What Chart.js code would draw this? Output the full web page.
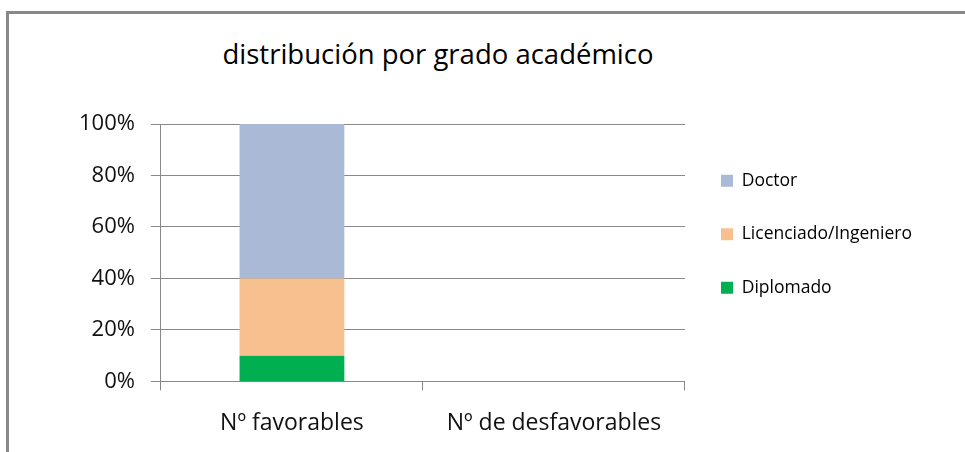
<!DOCTYPE html>
<html>
<head>
<meta charset="utf-8">
<script src="https://cdn.jsdelivr.net/npm/chart.js@4/dist/chart.umd.min.js"></script>
<style>
  body { margin: 0; background: #fff; overflow: hidden; }
  #frame { position: absolute; left: 6px; top: 11px; width: 980px; height: 460px;
           border-left: 3px solid #888; border-top: 3px solid #888; }
  #titulo { position: absolute; left: 138px; width: 600px; top: 35px; text-align: center;
            font: 27.5px "Open Sans", sans-serif; color: #000; white-space: nowrap; }
  #wrap { position: absolute; left: 0; top: 0; width: 965px; height: 456px; }
</style>
</head>
<body>
<div id="frame"></div>
<div id="titulo">distribución por grado académico</div>
<div id="wrap"><canvas id="grafico"></canvas></div>
<script>
// datos
var categorias = ['Nº favorables', 'Nº de desfavorables'];
var diplomado = [10, 0];
var licenciado = [30, 0];
var doctor = [60, 0];
var marcasY = [0, 20, 40, 60, 80, 100];

var gris = '#888888';
var fuente = '"Open Sans", sans-serif';

function dibujar() {
    var ctx = document.getElementById('grafico').getContext('2d');
    var grafico = new Chart(ctx, {
        type: 'bar',
        data: {
            labels: categorias,
            datasets: [
                { label: 'Diplomado', data: diplomado, backgroundColor: '#00B050' },
                { label: 'Licenciado/Ingeniero', data: licenciado, backgroundColor: '#F9C08F' },
                { label: 'Doctor', data: doctor, backgroundColor: '#AAB9D6' }
            ]
        },
        options: {
            responsive: true,
            maintainAspectRatio: false,
            animation: false,
            layout: { padding: { left: 63, right: 43, top: 124, bottom: 0 } },
            datasets: { bar: { categoryPercentage: 1, barPercentage: 0.4 } },
            plugins: {
                legend: {
                    position: 'right',
                    align: 'start',
                    reverse: true,
                    maxWidth: 320,
                    title: { display: true, text: ' ', font: { size: 10 }, padding: 0 },
                    labels: {
                        boxWidth: 12,
                        boxHeight: 12,
                        padding: 36,
                        color: '#000',
                        font: { family: fuente, size: 17.5 }
                    }
                },
                tooltip: { enabled: false }
            },
            scales: {
                x: {
                    stacked: true,
                    grid: { drawOnChartArea: false, tickLength: 9, color: gris },
                    border: { color: gris, width: 1 },
                    ticks: { color: '#111', padding: 19, font: { family: fuente, size: 23 } }
                },
                y: {
                    stacked: true,
                    min: 0,
                    max: 100,
                    afterBuildTicks: function (eje) {
                        eje.ticks = marcasY.map(function (v) { return { value: v }; });
                    },
                    grid: { color: gris, tickLength: 10 },
                    border: { color: gris, width: 1 },
                    ticks: {
                        color: '#111',
                        padding: 16,
                        font: { family: fuente, size: 22 },
                        callback: function (v) { return v + '%'; }
                    }
                }
            }
        }
    });
}

if (document.fonts && document.fonts.load) {
    Promise.all([
        document.fonts.load('17px "Open Sans"'),
        document.fonts.load('22px "Open Sans"')
    ]).then(dibujar, dibujar);
} else {
    dibujar();
}
</script>
</body>
</html>
